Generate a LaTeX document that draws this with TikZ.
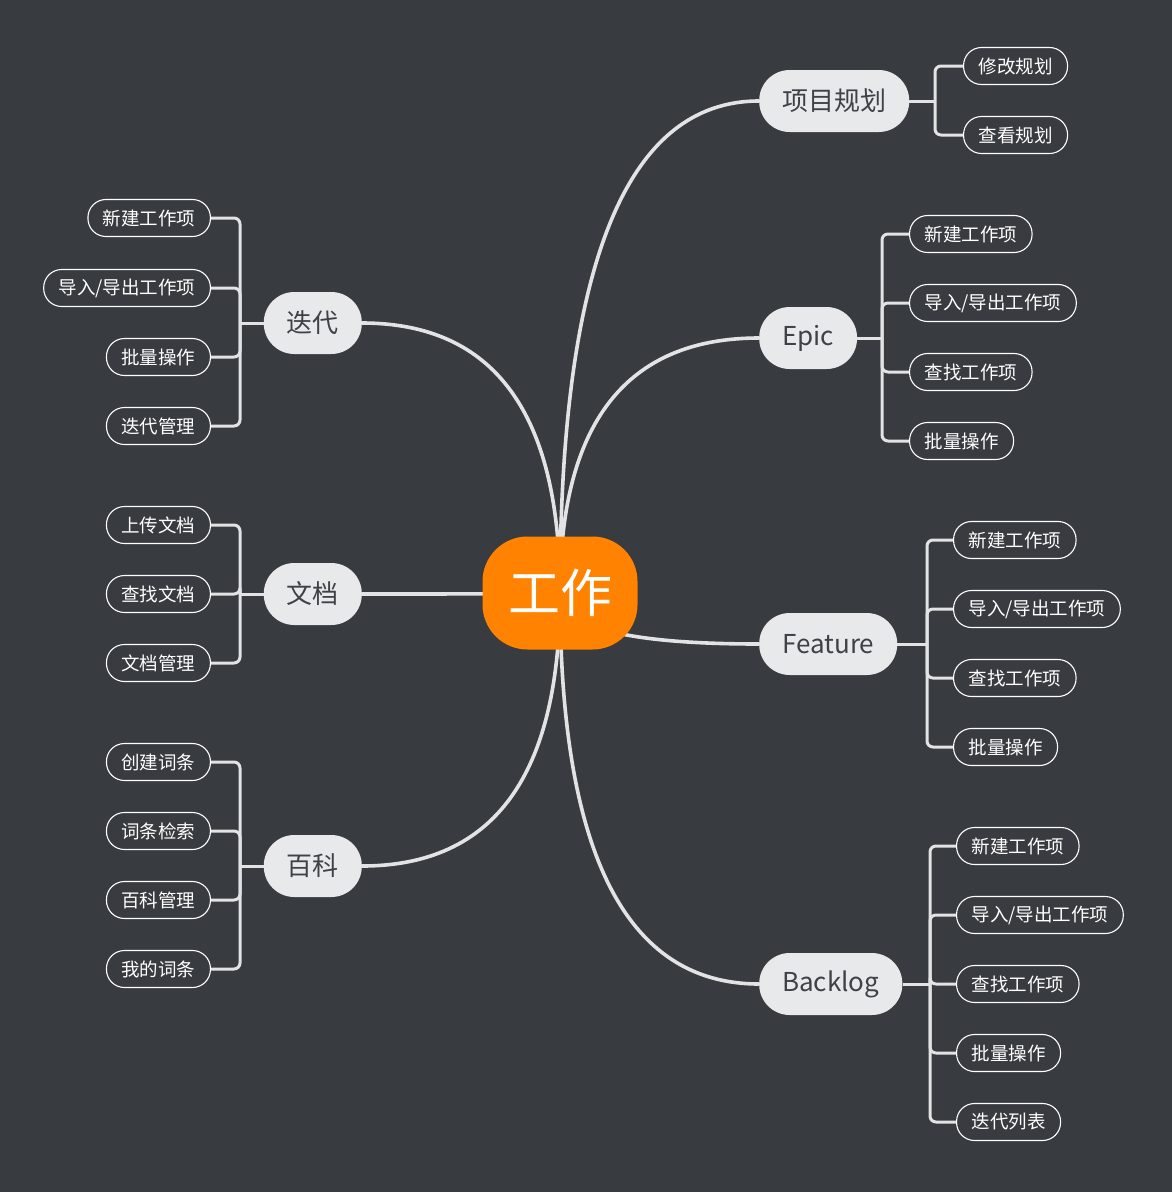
\documentclass[tikz,border=0pt]{standalone}
\usepackage{fontspec}
\setmainfont{Noto Sans CJK SC}
\usepackage{tikz}
\usetikzlibrary{calc,positioning}
\definecolor{mapbg}{RGB}{56,59,64}
\definecolor{coreor}{RGB}{255,131,0}
\definecolor{topfill}{RGB}{232,233,235}
\definecolor{toptext}{RGB}{62,65,70}
\definecolor{linegray}{RGB}{226,227,229}
\pgfdeclarelayer{bg}
\pgfdeclarelayer{lines}
\pgfsetlayers{bg,lines,main}
\tikzset{
  core/.style={fill=coreor, text=white, rounded corners=45pt,
               minimum width=155pt, minimum height=113pt,
               font=\fontsize{52}{58}\selectfont},
  topic/.style={fill=topfill, text=toptext, rounded corners=30.5pt,
                minimum height=62pt, inner xsep=23pt,
                font=\fontsize{26}{30}\selectfont},
  leaf/.style={draw=white, line width=1.1pt, text=white, rounded corners=18pt,
               minimum height=37pt, inner xsep=15pt,
               font=\fontsize{18.5}{20}\selectfont},
  mainln/.style={linegray, line width=3.6pt},
  brln/.style={linegray, line width=3pt, rounded corners=6pt},
  curv/.style={to path={.. controls ($(\tikztostart)!0.667!(\tikztostart |- \tikztotarget)$)
               and ($(\tikztotarget)!0.667!(\tikztostart |- \tikztotarget)$) .. (\tikztotarget)}},
}

\begin{document}
\begin{tikzpicture}[x=1pt, y=-1pt]
  \begin{pgfonlayer}{bg}
    \fill[mapbg] (0,0) rectangle (1172,1192);
  \end{pgfonlayer}

  % centre and main topics
  \node[core] (ct) at (560,593) {工作};
  \node[topic, anchor=west] (xm) at (759,101) {项目规划};
  \node[topic, anchor=west] (ep) at (759,338) {Epic};
  \node[topic, anchor=west] (ft) at (759,644) {Feature};
  \node[topic, anchor=west] (bl) at (759,984) {Backlog};
  \node[topic, anchor=east] (dd) at (362,323) {迭代};
  \node[topic, anchor=east] (wd) at (362,594) {文档};
  \node[topic, anchor=east] (bk) at (362,866) {百科};

  \begin{pgfonlayer}{lines}
    \foreach \t in {xm.west,ep.west,ft.west,bl.west,dd.east,wd.east,bk.east}
      \draw[mainln] (ct.center) to[curv] (\t);
  \end{pgfonlayer}

  % junctions of the brackets
  \coordinate (xmj) at (935,101);
  \coordinate (epj) at (882,338);
  \coordinate (ftj) at (927,644);
  \coordinate (blj) at (930,984);
  \coordinate (ddj) at (240,323);
  \coordinate (wdj) at (240,594);
  \coordinate (bkj) at (240,866);

  % right side leaves
  \foreach \n/\y/\s in {xm1/66/修改规划, xm2/135/查看规划}
    \node[leaf, anchor=west] (\n) at (963,\y) {\s};
  \foreach \n/\y/\s in {ep1/234/新建工作项, ep2/303/{导入/导出工作项}, ep3/372/查找工作项, ep4/441/批量操作}
    \node[leaf, anchor=west] (\n) at (909,\y) {\s};
  \foreach \n/\y/\s in {ft1/540/新建工作项, ft2/609/{导入/导出工作项}, ft3/678/查找工作项, ft4/747/批量操作}
    \node[leaf, anchor=west] (\n) at (953,\y) {\s};
  \foreach \n/\y/\s in {bl1/846/新建工作项, bl2/915/{导入/导出工作项}, bl3/984/查找工作项, bl4/1053/批量操作, bl5/1122/迭代列表}
    \node[leaf, anchor=west] (\n) at (956,\y) {\s};

  % left side leaves
  \foreach \n/\y/\s in {dd1/218/新建工作项, dd2/288/{导入/导出工作项}, dd3/357/批量操作, dd4/426/迭代管理}
    \node[leaf, anchor=east] (\n) at (211,\y) {\s};
  \foreach \n/\y/\s in {wd1/525/上传文档, wd2/594/查找文档, wd3/663/文档管理}
    \node[leaf, anchor=east] (\n) at (211,\y) {\s};
  \foreach \n/\y/\s in {bk1/762/创建词条, bk2/831/词条检索, bk3/900/百科管理, bk4/969/我的词条}
    \node[leaf, anchor=east] (\n) at (211,\y) {\s};

  \begin{pgfonlayer}{lines}
    \draw[brln] (xm.east) -- (xmj);
    \draw[brln] (ep.east) -- (epj);
    \draw[brln] (ft.east) -- (ftj);
    \draw[brln] (bl.east) -- (blj);
    \draw[brln] (dd.west) -- (ddj);
    \draw[brln] (wd.west) -- (wdj);
    \draw[brln] (bk.west) -- (bkj);
    \foreach \n in {1,2} \draw[brln] (xmj) |- (xm\n.west);
    \foreach \n in {1,...,4} \draw[brln] (epj) |- (ep\n.west);
    \foreach \n in {1,...,4} \draw[brln] (ftj) |- (ft\n.west);
    \foreach \n in {1,...,5} \draw[brln] (blj) |- (bl\n.west);
    \foreach \n in {1,...,4} \draw[brln] (ddj) |- (dd\n.east);
    \foreach \n in {1,2,3} \draw[brln] (wdj) |- (wd\n.east);
    \foreach \n in {1,...,4} \draw[brln] (bkj) |- (bk\n.east);
  \end{pgfonlayer}
\end{tikzpicture}
\end{document}
